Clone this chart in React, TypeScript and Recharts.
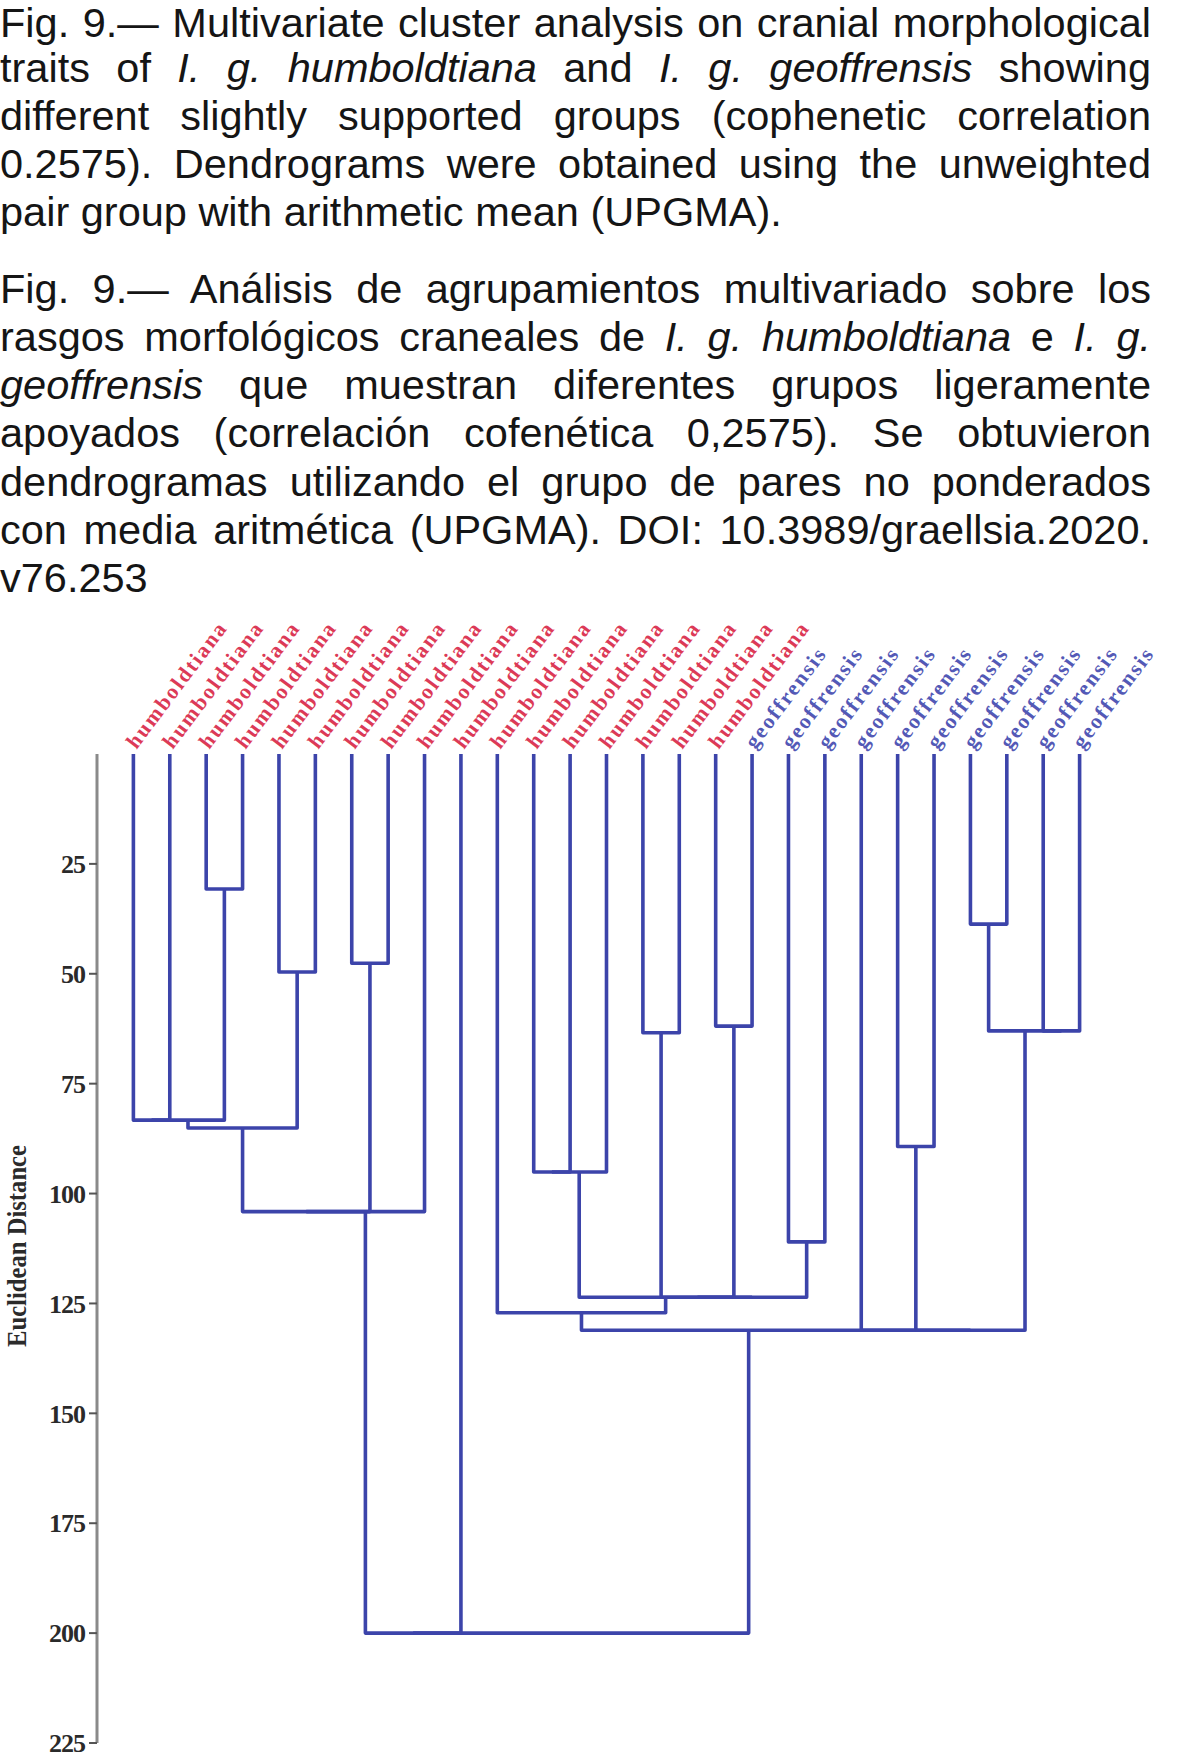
import React from 'react'
import { ScatterChart, Scatter, XAxis, YAxis, Label } from 'recharts'

const SANS = '"Liberation Sans", Arial, Helvetica, sans-serif'
const SERIF = '"Liberation Serif", "Times New Roman", serif'

const LINK = '#3c44aa'
const RED = '#dc3a57'
const BLUE = '#5359b6'

// leaves, left to right
const LEAF_LABELS = [
  'humboldtiana', 'humboldtiana', 'humboldtiana', 'humboldtiana', 'humboldtiana', 'humboldtiana',
  'humboldtiana', 'humboldtiana', 'humboldtiana', 'humboldtiana', 'humboldtiana', 'humboldtiana',
  'humboldtiana', 'humboldtiana', 'humboldtiana', 'humboldtiana', 'humboldtiana',
  'geoffrensis', 'geoffrensis', 'geoffrensis', 'geoffrensis', 'geoffrensis',
  'geoffrensis', 'geoffrensis', 'geoffrensis', 'geoffrensis', 'geoffrensis',
]

// linkage table: leaves are nodes 0..26, merge k creates node 27 + k
const MERGE_A = [2, 23, 6, 4, 16, 25, 32, 14, 0, 35, 36, 21, 11, 39, 37, 41, 18, 34, 44, 45, 10, 38, 48, 49, 42, 51]
const MERGE_B = [3, 24, 7, 5, 17, 26, 28, 15, 1, 27, 30, 22, 12, 13, 29, 8, 19, 31, 43, 40, 46, 33, 20, 47, 9, 50]
const MERGE_DIST = [30.7, 38.7, 47.6, 49.6, 61.9, 63.0, 63.0, 63.4, 83.3, 83.3, 85.1, 89.3, 95.1, 95.1, 104.1, 104.1, 111.0, 123.6, 123.6, 123.6, 127.1, 131.1, 131.1, 131.1, 200, 200]

const Y_TICKS = [25, 50, 75, 100, 125, 150, 175, 200, 225]
const LEAF_TICKS = LEAF_LABELS.map((_, i) => i)

type Pt = { x: number; y: number }

// each merge is drawn as an upside-down U from child to child
function buildLinks() {
  const nodeX: number[] = LEAF_LABELS.map((_, i) => i)
  const nodeH: number[] = LEAF_LABELS.map(() => 0)
  const links: Pt[][] = []
  MERGE_A.forEach((a, k) => {
    const b = MERGE_B[k]
    const h = MERGE_DIST[k]
    links.push([
      { x: nodeX[a], y: nodeH[a] },
      { x: nodeX[a], y: h },
      { x: nodeX[b], y: h },
      { x: nodeX[b], y: nodeH[b] },
    ])
    nodeX.push((nodeX[a] + nodeX[b]) / 2)
    nodeH.push(h)
  })
  return links
}

const LINKS = buildLinks()

function LeafTick(props: any) {
  const { x, y, payload } = props
  const name = LEAF_LABELS[payload?.value]
  if (!name) return <g />
  return (
    <text
      x={0}
      y={0}
      transform={`translate(${x + 3},${y - 4}) rotate(-53)`}
      fill={name === 'humboldtiana' ? RED : BLUE}
      fontFamily={SERIF}
      fontSize={21.5}
      fontWeight={700}
      letterSpacing={2}
      textAnchor="start"
    >
      {name}
    </text>
  )
}

function AxisTitle(props: any) {
  const vb = props.viewBox || { y: 0, height: 0 }
  const cy = vb.y + vb.height / 2 - 2.5
  return (
    <text
      x={0}
      y={0}
      transform={`translate(26,${cy}) rotate(-90)`}
      textAnchor="middle"
      fill="#2b2b2b"
      fontFamily={SERIF}
      fontSize={27}
      fontWeight={700}
      textLength={202}
      lengthAdjust="spacingAndGlyphs"
    >
      Euclidean Distance
    </text>
  )
}

const line: React.CSSProperties = { textAlign: 'justify', textAlignLast: 'justify' as any }
const last: React.CSSProperties = { textAlign: 'left' }
const first: React.CSSProperties = { ...line, lineHeight: '46.4px', marginBottom: -2.9 }

function Caption() {
  const box: React.CSSProperties = {
    position: 'absolute', left: 0, width: 1151,
    fontFamily: SANS, fontSize: 41.5, lineHeight: '48.3px', color: '#151515',
  }
  return (
    <>
      <div style={{ ...box, top: 0 }}>
        <div style={first}>Fig. 9.— Multivariate cluster analysis on cranial morphological</div>
        <div style={line}>traits of <i>I. g. humboldtiana</i> and <i>I. g. geoffrensis</i> showing</div>
        <div style={line}>different slightly supported groups (cophenetic correlation</div>
        <div style={line}>0.2575). Dendrograms were obtained using the unweighted</div>
        <div style={last}>pair group with arithmetic mean (UPGMA).</div>
      </div>
      <div style={{ ...box, top: 264.5 }}>
        <div style={line}>Fig. 9.— Análisis de agrupamientos multivariado sobre los</div>
        <div style={line}>rasgos morfológicos craneales de <i>I. g. humboldtiana</i> e <i>I. g.</i></div>
        <div style={line}><i>geoffrensis</i> que muestran diferentes grupos ligeramente</div>
        <div style={line}>apoyados (correlación cofenética 0,2575). Se obtuvieron</div>
        <div style={line}>dendrogramas utilizando el grupo de pares no ponderados</div>
        <div style={line}>con media aritmética (UPGMA). DOI: 10.3989/graellsia.2020.</div>
        <div style={last}>v76.253</div>
      </div>
    </>
  )
}

export default function App() {
  return (
    <div style={{ position: 'absolute', left: 0, top: 0, width: 1180, height: 1760, background: '#fff', overflow: 'hidden' }}>
      <Caption />
      <div style={{ position: 'absolute', left: 0, top: 610 }}>
        <ScatterChart width={1180} height={1149} margin={{ top: 132, right: 64, bottom: 16, left: 0 }}>
          <XAxis
            type="number"
            dataKey="x"
            orientation="top"
            domain={[-1, 27]}
            allowDataOverflow
            ticks={LEAF_TICKS}
            interval={0}
            height={12}
            axisLine={false}
            tickLine={false}
            tickSize={0}
            tickMargin={0}
            tick={<LeafTick />}
          />
          <YAxis
            type="number"
            dataKey="y"
            domain={[0, 225]}
            allowDataOverflow
            reversed
            ticks={Y_TICKS}
            interval={0}
            width={97}
            axisLine={{ stroke: '#8a8a8a', strokeWidth: 3 }}
            tickLine={{ stroke: '#555', strokeWidth: 2 }}
            tickSize={8}
            tickMargin={4}
            tick={{ fill: '#2a2a2a', fontSize: 26, fontFamily: SERIF, fontWeight: 700, letterSpacing: -1 }}
          >
            <Label content={(p: any) => <AxisTitle {...p} />} />
          </YAxis>
          {LINKS.map((pts, i) => (
            <Scatter
              key={i}
              data={pts}
              line={{ stroke: LINK, strokeWidth: 3.6, strokeLinejoin: 'round' }}
              shape={() => <g />}
              legendType="none"
              isAnimationActive={false}
            />
          ))}
        </ScatterChart>
      </div>
    </div>
  )
}
